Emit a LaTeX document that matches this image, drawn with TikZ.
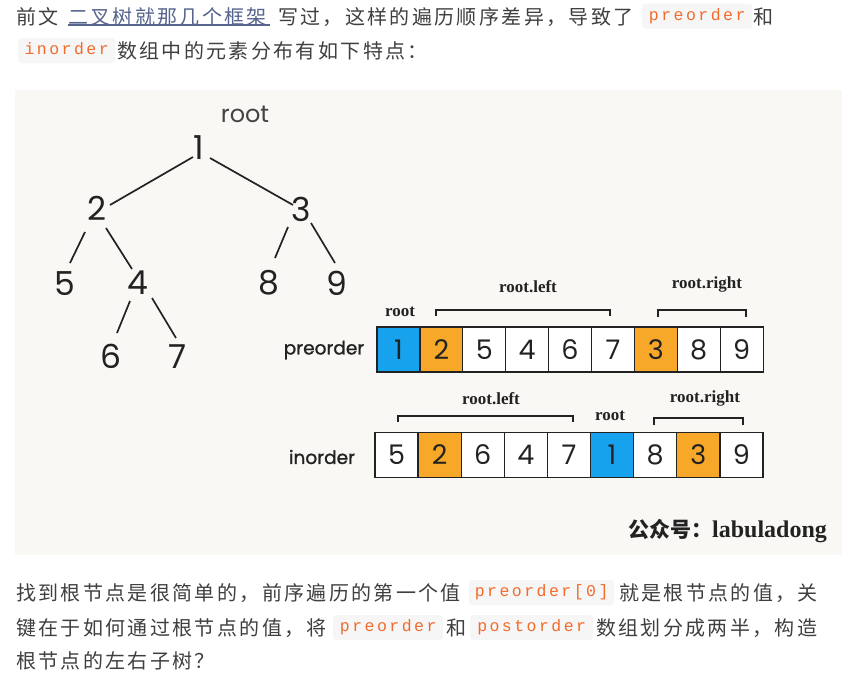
\documentclass[tikz,border=0pt]{standalone}
\usepackage{fontspec}
\usetikzlibrary{calc}
\newfontfamily\cjk[LetterSpace=11.75]{Noto Sans CJK SC}
\newfontfamily\cjkw{Noto Sans CJK SC}
\newfontfamily\codefont[LetterSpace=15]{Liberation Mono}
\newfontfamily\geo{Poppins}
\newfontfamily\geob[FakeBold=1.2]{Poppins}
\newfontfamily\serifw{Liberation Serif}
\definecolor{txt}{HTML}{3F3F3F}
\definecolor{linkc}{HTML}{56648E}
\definecolor{codeor}{HTML}{F26B2C}
\definecolor{codebg}{HTML}{F6F6F6}
\definecolor{pagebg}{HTML}{FAF8F5}
\definecolor{blu}{HTML}{16A2EC}
\definecolor{orng}{HTML}{F8A828}
\definecolor{ink}{HTML}{222222}
\tikzset{
  body/.style={font=\cjk\fontsize{20}{24}\selectfont, text=txt, inner sep=0, anchor=base west},
  code/.style={fill=codebg, rounded corners=3, inner sep=0, minimum height=25, anchor=west,
    font=\codefont\fontsize{16.5}{19}\selectfont, text=codeor, text height=0.82em, text depth=0em},
  tnum/.style={font=\geo\fontsize{33}{36}\selectfont, text=ink, inner sep=0},
  tedge/.style={draw=ink, line width=1.7},
  cell/.style={draw=ink, line width=1.3, minimum width=43, minimum height=45, inner sep=0,
    font=\geo\fontsize{27}{30}\selectfont, text=ink},
  arrlab/.style={font=\geob\fontsize{18.5}{22}\selectfont, text=ink, inner sep=0},
  brlab/.style={font=\serifw\bfseries\fontsize{17}{20}\selectfont, text=ink, inner sep=0},
  brk/.style={draw=ink, line width=1.2}
}
\begin{document}
\begin{tikzpicture}[x=1pt,y=-1pt]
\useasboundingbox (0,0) rectangle (856,680);
\fill[white] (0,0) rectangle (856,680);
\fill[pagebg] (15,90) rectangle (842,555);

% ---- top paragraph ----
\node[body] (l1a) at (16,24) {前文};
\node[body, text=linkc] (l1b) at (68,24) {二叉树就那几个框架};
\draw[linkc, line width=2] (68,25) -- (270,25);
\node[body] (l1c) at (278,24) {写过，这样的遍历顺序差异，导致了};
\node[code, minimum width=110] (c1) at (642,16) {preorder};
\node[body] (l1d) at (753,24) {和};
\node[code, minimum width=97] (c2) at (18,50.5) {inorder};
\node[body] (l2a) at (117,58.5) {数组中的元素分布有如下特点：};

% ---- tree ----
\node[font=\geo\fontsize{24}{28}\selectfont, text=ink!85, inner sep=0] (rootlab) at (245,114) {root};
\node[tnum] (t1) at (199,148) {1};
\node[tnum] (t2) at (97,208) {2};
\node[tnum] (t3) at (301,209) {3};
\node[tnum] (t5) at (65,284) {5};
\node[tnum] (t4) at (138,283) {4};
\node[tnum] (t8) at (269,283) {8};
\node[tnum] (t9) at (337,283) {9};
\node[tnum] (t6) at (111,356) {6};
\node[tnum] (t7) at (178,357) {7};
\draw[tedge] ($(t1)+(-6,9)$) -- ($(t2)+(13,-3)$);
\draw[tedge] ($(t1)+(11,10)$) -- ($(t3)+(-8,-4)$);
\draw[tedge] ($(t2)+(-12,24)$) -- ($(t5)+(5,-21)$);
\draw[tedge] ($(t2)+(9,20)$) -- ($(t4)+(-6,-14)$);
\draw[tedge] ($(t3)+(-13,18)$) -- ($(t8)+(6,-25)$);
\draw[tedge] ($(t3)+(10,14)$) -- ($(t9)+(-2,-20)$);
\draw[tedge] ($(t4)+(-8,18)$) -- ($(t6)+(6,-23)$);
\draw[tedge] ($(t4)+(14,15)$) -- ($(t7)+(-2,-19)$);

% ---- preorder row ----
\node[arrlab] (prelab) at (324,350) {preorder};
\foreach \v/\c [count=\i] in {1/blu,2/orng,5/white,4/white,6/white,7/white,3/orng,8/white,9/white}{
  \node[cell, fill=\c] (p\i) at ({377+42.9*(\i-0.5)},349.5) {\v};
}
\node[brlab] (prroot) at (400,312) {root};
\node[brlab] (prleft) at (528,287) {root.left};
\node[brlab] (prright) at (707,284) {root.right};
\draw[brk] (436,316) -- (436,310) -- (610,310) -- (610,316);
\draw[brk] (658,317) -- (658,310) -- (746,310) -- (746,317);

% ---- inorder row ----
\node[arrlab] (inlab) at (322,457) {inorder};
\foreach \v/\c [count=\i] in {5/white,2/orng,6/white,4/white,7/white,1/blu,8/white,3/orng,9/white}{
  \node[cell, fill=\c] (q\i) at ({375+43.1*(\i-0.5)},455) {\v};
}
\node[brlab] (inleft) at (491,399) {root.left};
\node[brlab] (inroot) at (610,416) {root};
\node[brlab] (inright) at (705,398) {root.right};
\draw[brk] (398,422) -- (398,416) -- (573,416) -- (573,422);
\draw[brk] (654,425) -- (654,418) -- (743,418) -- (743,425);

% ---- watermark ----
\node[inner sep=0, anchor=base west, text=ink] (wm) at (628,537)
  {{\cjkw\bfseries\fontsize{21}{24}\selectfont 公众号：}{\serifw\bfseries\fontsize{24}{28}\selectfont labuladong}};

% ---- bottom paragraph ----
\node[body] (l3a) at (16,600.5) {找到根节点是很简单的，前序遍历的第一个值};
\node[code, minimum width=145] (c3) at (469,592.5) {preorder[0]};
\node[body] (l3b) at (619,600.5) {就是根节点的值，关};
\node[body] (l4a) at (16,635.5) {键在于如何通过根节点的值，将};
\node[code, minimum width=110] (c4) at (333,627.5) {preorder};
\node[body] (l4b) at (446,635.5) {和};
\node[code, minimum width=123] (c5) at (470,627.5) {postorder};
\node[body] (l4c) at (596,635.5) {数组划分成两半，构造};
\node[body] (l5a) at (16,668.5) {根节点的左右子树？};
\end{tikzpicture}
\end{document}
